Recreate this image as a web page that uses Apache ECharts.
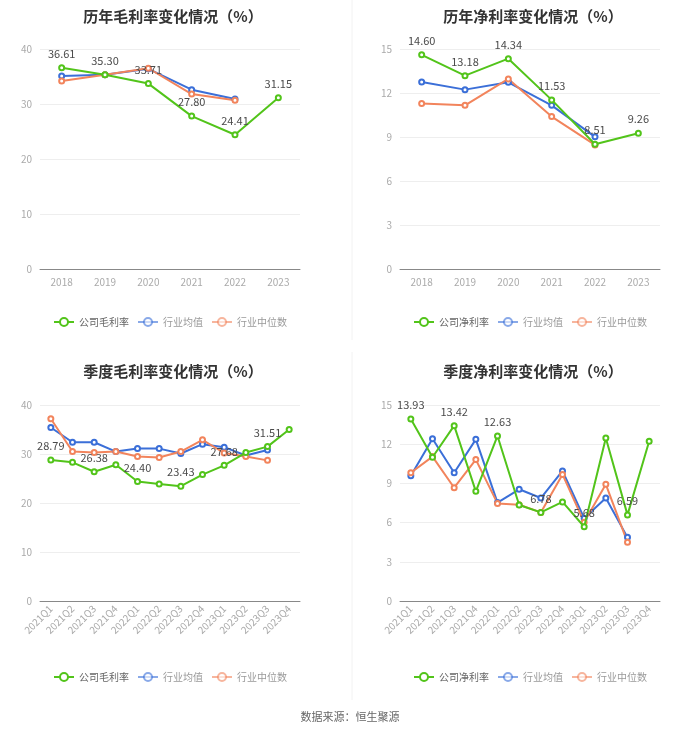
<!DOCTYPE html>
<html><head><meta charset="utf-8">
<script src="https://cdn.jsdelivr.net/npm/echarts@6/dist/echarts.min.js"></script>
<style>html,body{margin:0;padding:0;background:#fff}#c{width:700px;height:734px}</style>
</head><body><div id="c"></div>
<script>
const years = ['2018','2019','2020','2021','2022','2023'];
const quarters = ['2021Q1','2021Q2','2021Q3','2021Q4','2022Q1','2022Q2','2022Q3','2022Q4','2023Q1','2023Q2','2023Q3','2023Q4'];

const annualGross = [36.61, 35.30, 33.71, 27.80, 24.41, 31.15];
const annualGrossMean = [35.1, 35.3, 36.4, 32.6, 30.9];
const annualGrossMedian = [34.2, 35.3, 36.5, 31.8, 30.7];

const annualNet = [14.60, 13.18, 14.34, 11.53, 8.51, 9.26];
const annualNetMean = [12.75, 12.23, 12.73, 11.16, 9.01];
const annualNetMedian = [11.28, 11.16, 12.96, 10.39, 8.46];

const qGross = [28.79, 28.3, 26.38, 27.8, 24.40, 23.9, 23.43, 25.8, 27.68, 30.3, 31.51, 35.0];
const qGrossMean = [35.4, 32.4, 32.4, 30.5, 31.1, 31.1, 30.1, 32.0, 31.4, 29.7, 30.8];
const qGrossMedian = [37.2, 30.5, 30.3, 30.5, 29.5, 29.3, 30.5, 32.9, 30.2, 29.5, 28.7];

const qNet = [13.93, 11.0, 13.42, 8.39, 12.63, 7.35, 6.78, 7.58, 5.68, 12.47, 6.59, 12.22];
const qNetMean = [9.59, 12.42, 9.82, 12.37, 7.53, 8.55, 7.88, 9.95, 6.33, 7.88, 4.87];
const qNetMedian = [9.82, 11.05, 8.67, 10.82, 7.47, 7.37, 6.78, 9.69, 6.02, 8.93, 4.49];

const titles = ['历年毛利率变化情况（%）','历年净利率变化情况（%）','季度毛利率变化情况（%）','季度净利率变化情况（%）'];
const companyNames = ['公司毛利率','公司净利率','公司毛利率','公司净利率'];

const GREEN = '#52c41a', BLUE = '#3b6fd8', ORANGE = '#f2845c';
const FONT = '"Noto Sans CJK SC", "Noto Sans", sans-serif';

const grids = [
  {left:40, top:49, width:260, height:220},
  {left:400, top:49, width:260, height:220},
  {left:40, top:405, width:260, height:196},
  {left:400, top:405, width:260, height:196}
];
const titlePos = [[168,4],[528,4],[168,359],[528,359]];
const legendPos = [[48,312],[408,312],[48,667],[408,667]];
const yMax = [40,15,40,15], yInt = [10,3,10,3];
const cats = [years, years, quarters, quarters];
const company = [annualGross, annualNet, qGross, qNet];
const means = [annualGrossMean, annualNetMean, qGrossMean, qNetMean];
const medians = [annualGrossMedian, annualNetMedian, qGrossMedian, qNetMedian];

const option = {
  animation:false,
  textStyle:{fontFamily:FONT},
  title: titles.map((t,i)=>({text:t, left:titlePos[i][0], top:titlePos[i][1], textAlign:'center',
    textStyle:{fontSize:15, fontWeight:'bold', color:'#333', fontFamily:FONT}})),
  grid: grids,
  legend: [0,1,2,3].map(i=>({
    left:legendPos[i][0], top:legendPos[i][1],
    itemWidth:20, itemHeight:10, itemGap:8,
    textStyle:{fontSize:10, color:'#888', fontFamily:FONT},
    data:[
      {name:companyNames[i], textStyle:{color:'#666'}},
      {name:'行业均值', itemStyle:{opacity:0.6}, lineStyle:{opacity:0.6}, textStyle:{color:'#999'}},
      {name:'行业中位数', itemStyle:{opacity:0.6}, lineStyle:{opacity:0.6}, textStyle:{color:'#999'}}
    ]
  })),
  xAxis: [0,1,2,3].map(i=>({
    type:'category', gridIndex:i, data:cats[i], boundaryGap:true,
    axisLine:{lineStyle:{color:'#888'}},
    axisTick:{alignWithLabel:true, lineStyle:{color:'#888'}},
    axisLabel:{color:'#aaa', fontSize:10, rotate: i>=2 ? 45 : 0, margin: i>=2 ? 6 : 8, interval:0}
  })),
  yAxis: [0,1,2,3].map(i=>({
    type:'value', gridIndex:i, min:0, max:yMax[i], interval:yInt[i],
    axisLine:{show:false}, axisTick:{show:false},
    axisLabel:{color:'#aaa', fontSize:10},
    splitLine:{lineStyle:{color:'#eee'}}
  })),
  series: [],
  graphic: [
    {type:'line', shape:{x1:352,y1:0,x2:352,y2:340}, style:{stroke:'#f2f2f2', lineWidth:1}},
    {type:'line', shape:{x1:352,y1:352,x2:352,y2:700}, style:{stroke:'#f2f2f2', lineWidth:1}},
    {type:'text', left:'center', top:711, style:{text:'数据来源：恒生聚源', fill:'#666', fontSize:11, fontFamily:FONT}}
  ]
};

for (let i=0;i<4;i++){
  const labelled = company[i].map((v,j)=>{
    const show = i<2 ? true : (j%2===0);
    return {value:v, label:{show:show}};
  });
  option.series.push({
    name:companyNames[i], type:'line', xAxisIndex:i, yAxisIndex:i, data:labelled,
    symbol:'emptyCircle', symbolSize:5, color:GREEN, lineStyle:{width:2, color:GREEN},
    label:{position:'top', color:'#4a4a4a', fontSize:11, formatter:p=>p.value.toFixed(2)}, z:3
  });
  option.series.push({
    name:'行业均值', type:'line', xAxisIndex:i, yAxisIndex:i, data:means[i],
    symbol:'emptyCircle', symbolSize:5, color:BLUE, lineStyle:{width:2, color:BLUE}, z:2
  });
  option.series.push({
    name:'行业中位数', type:'line', xAxisIndex:i, yAxisIndex:i, data:medians[i],
    symbol:'emptyCircle', symbolSize:5, color:ORANGE, lineStyle:{width:2, color:ORANGE}, z:2
  });
}

echarts.init(document.getElementById('c'), null, {renderer:'canvas'}).setOption(option);
</script></body></html>
